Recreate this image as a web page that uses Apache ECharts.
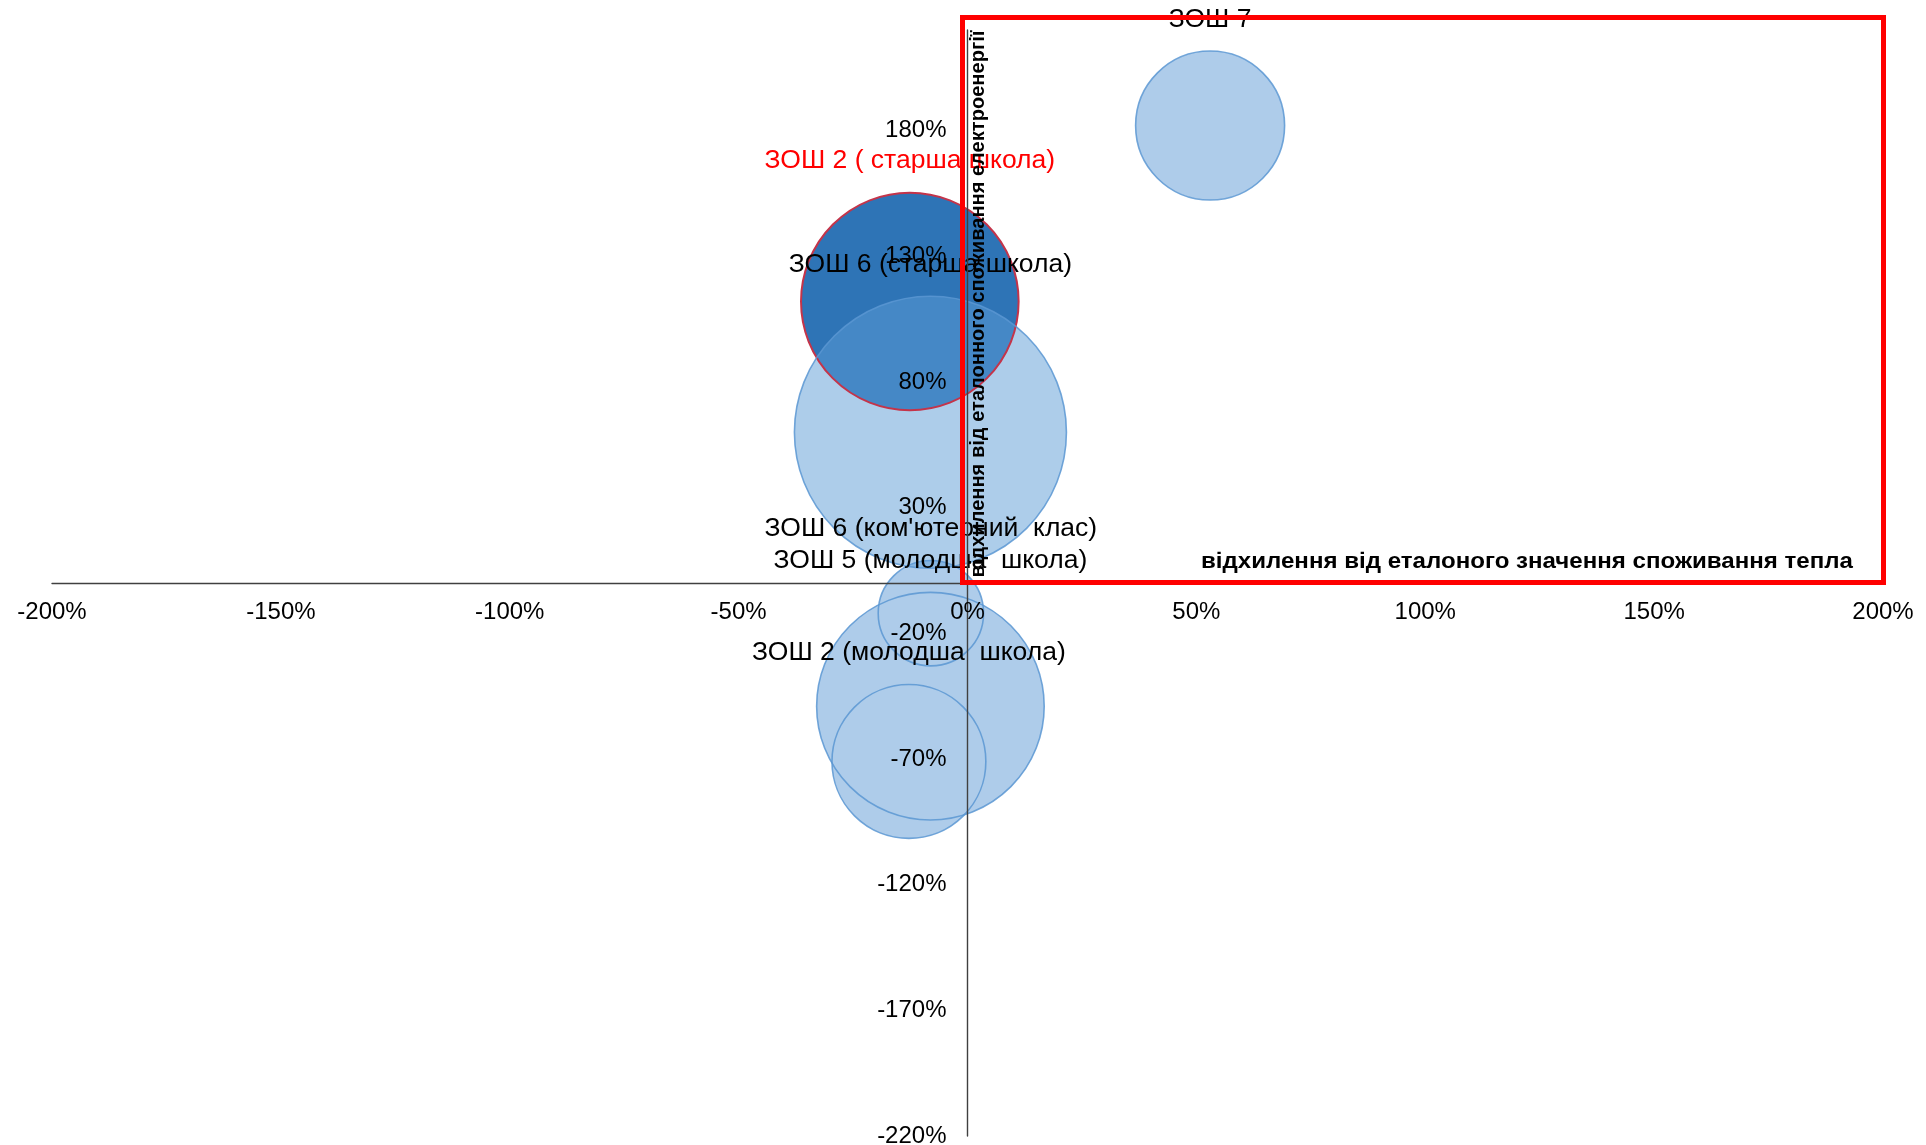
<!DOCTYPE html>
<html>
<head>
<meta charset="utf-8">
<script src="https://cdn.jsdelivr.net/npm/echarts@6/dist/echarts.min.js"></script>
<style>
  html, body { margin: 0; padding: 0; background: #ffffff; }
  #chart { width: 1926px; height: 1145px; }
</style>
</head>
<body>
<div id="chart"></div>
<script>
// Schools and their deviations from the reference values (fractions: 1 = 100%)
const schools = [
  'ЗОШ 7',
  'ЗОШ 2 ( старша школа)',
  'ЗОШ 6 (старша школа)',
  "ЗОШ 6 (ком'ютерний  клас)",
  'ЗОШ 5 (молодша  школа)',
  'ЗОШ 2 (молодша  школа)'
];
// deviation from the reference heat consumption (x)
const heatDeviation = [0.53, -0.126, -0.081, -0.080, -0.081, -0.128];
// deviation from the reference electricity consumption (y)
const powerDeviation = [1.82, 1.12, 0.60, -0.12, -0.49, -0.71];
// relative bubble size
const bubbleSize = [30, 64, 100, 15, 70, 32];
// highlighted school (drawn dark with a red caption)
const highlighted = ['ЗОШ 2 ( старша школа)'];

// axis ticks
const xTicks = { min: -2, max: 2, step: 0.5 };
const yTickValues = [-2.2, -1.7, -1.2, -0.7, -0.2, 0.3, 0.8, 1.3, 1.8];
const yRange = { min: -2.2, max: 2.2 };

const xTitle = 'відхилення від еталоного значення споживання тепла';
const yTitle = 'відхилення від еталонного споживання електроенергії';

const FONT = '"Liberation Sans", Arial, sans-serif';
const MAX_DIAMETER = 272;
const maxSize = Math.max(...bubbleSize);

const pct = v => Math.round(v * 100) + '%';

// drawing order: plain bubbles first, highlighted one, then the bubble that overlaps it
const overlapIdx = 2;
const order = [];
schools.forEach((s, i) => { if (!highlighted.includes(s) && i !== overlapIdx) order.push(i); });
schools.forEach((s, i) => { if (highlighted.includes(s)) order.push(i); });
order.push(overlapIdx);

const LIGHT = 'rgb(174,204,234)';
const LIGHT_T = 'rgba(91,155,213,0.5)';
const DARK = 'rgb(46,116,182)';

const fillData = order.map(i => {
  const hl = highlighted.includes(schools[i]);
  return {
    name: schools[i],
    value: [heatDeviation[i], powerDeviation[i], bubbleSize[i]],
    itemStyle: { color: hl ? DARK : (i === overlapIdx ? LIGHT_T : LIGHT), borderWidth: 0, opacity: 1 }
  };
});
const outlineData = order.map(i => {
  const hl = highlighted.includes(schools[i]);
  return {
    name: schools[i],
    value: [heatDeviation[i], powerDeviation[i], bubbleSize[i]],
    itemStyle: { color: 'rgba(0,0,0,0)', borderColor: hl ? 'rgb(196,52,74)' : 'rgba(91,150,210,0.85)', borderWidth: hl ? 2 : 1.6, opacity: 1 },
    label: { color: hl ? '#ff0000' : '#000000' }
  };
});

const sizeFn = v => MAX_DIAMETER * Math.sqrt(v[2] / maxSize);

// fit a title to a given length by horizontal scaling
const measureCtx = document.createElement('canvas').getContext('2d');
function fitScale(text, font, length) {
  measureCtx.font = font;
  return length / measureCtx.measureText(text).width;
}
const xTitleFont = 'bold 22px ' + FONT;
const yTitleFont = 'bold 21px ' + FONT;

const GRID = { left: 52, right: 43, top: 30, bottom: 9 };

const chart = echarts.init(document.getElementById('chart'), null, { renderer: 'canvas' });
chart.setOption({
  animation: false,
  backgroundColor: '#ffffff',
  grid: Object.assign({ containLabel: false, outerBoundsMode: 'none' }, GRID),
  xAxis: {
    type: 'value',
    position: 'bottom',
    z: 10,
    min: xTicks.min, max: xTicks.max, interval: xTicks.step,
    axisLine: { show: true, onZero: false, lineStyle: { color: '#404040', width: 1.4 } },
    axisTick: { show: false },
    splitLine: { show: false },
    axisLabel: { formatter: pct, color: '#000', fontSize: 24, fontFamily: FONT, margin: 17 }
  },
  yAxis: {
    type: 'value',
    position: 'left',
    z: 10,
    min: yRange.min, max: yRange.max,
    axisLine: { show: true, onZero: false, lineStyle: { color: '#404040', width: 1.4 } },
    axisTick: { show: false },
    splitLine: { show: false },
    axisLabel: { customValues: yTickValues, formatter: pct, color: '#000', fontSize: 24, fontFamily: FONT, margin: 21 }
  },
  series: [
    {
      type: 'scatter',
      z: 2,
      symbol: 'circle',
      symbolSize: sizeFn,
      data: fillData,
      silent: true
    },
    {
      type: 'scatter',
      z: 3,
      symbol: 'circle',
      symbolSize: sizeFn,
      data: outlineData,
      silent: true,
      label: {
        show: true,
        position: 'top',
        distance: 17.5,
        formatter: p => p.name,
        fontSize: 26.5,
        fontFamily: FONT
      }
    }
  ],
  graphic: [
    {
      type: 'text',
      z: 50,
      x: 1527, y: 562,
      scaleX: fitScale(xTitle, xTitleFont, 652),
      style: { text: xTitle, font: xTitleFont, fill: '#000', align: 'center', verticalAlign: 'middle' }
    },
    {
      type: 'text',
      z: 50,
      x: 978, y: 304,
      rotation: Math.PI / 2,
      scaleX: fitScale(yTitle, yTitleFont, 547),
      style: { text: yTitle, font: yTitleFont, fill: '#000', align: 'center', verticalAlign: 'middle' }
    },
    {
      type: 'rect',
      z: 60,
      shape: { x: 962.5, y: 17.5, width: 921, height: 565 },
      style: { fill: 'none', stroke: '#ff0000', lineWidth: 5 }
    }
  ]
});

// move both axes (line and labels) so that they cross at the origin
const origin = chart.convertToPixel({ gridIndex: 0 }, [0, 0]);
const H = chart.getHeight();
chart.setOption({
  xAxis: { offset: -((H - GRID.bottom) - origin[1]) },
  yAxis: { offset: -(origin[0] - GRID.left) }
});
</script>
</body>
</html>
